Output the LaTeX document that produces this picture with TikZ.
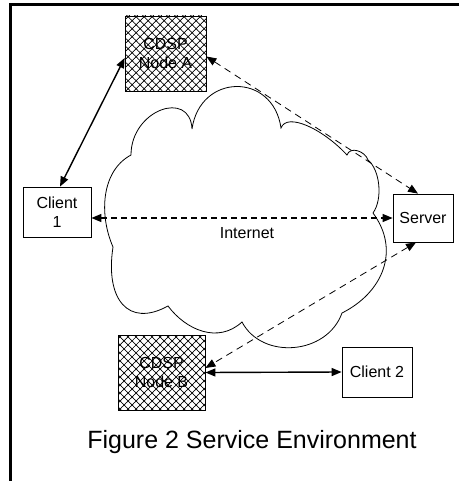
\documentclass[tikz,border=0pt]{standalone}
\usepackage{fontspec}
\setmainfont{Liberation Sans}
\usetikzlibrary{arrows.meta,patterns.meta}

\begin{document}
\begin{tikzpicture}[x=1pt, y=-1pt,
    >={Triangle[length=10pt,width=8pt]},
    box/.style={draw, line width=0.8pt, align=center, inner sep=0pt,
        font=\fontsize{16}{19}\selectfont},
    hatchbox/.style={box,
        pattern={Lines[angle=45,distance=5.66pt,line width=0.7pt]},
        postaction={pattern={Lines[angle=-45,distance=5.66pt,line width=0.7pt]}}},
    solidlink/.style={<->, line width=1.4pt},
    dashlink/.style={<->, line width=0.8pt, dash pattern=on 7pt off 5pt},
    thicklink/.style={<->, line width=1.3pt, dash pattern=on 6pt off 4pt}]
    \useasboundingbox (0,0) rectangle (459,481);

    % Frame (top and left only)
    \draw[line width=3pt] (459,4.5) -- (10.5,4.5) -- (10.5,481);

    % Internet cloud
    \draw[line width=0.8pt] (192,129)
        .. controls +(8,-56) and +(-8,-56) .. (281,128)
        .. controls +(6,-16) and +(-24,-26) .. (347,155)
        .. controls +(3,-9) and +(-3,-9) .. (368,160)
        .. controls +(12,10) and +(10,-14) .. (373,213)
        .. controls +(28,38) and +(40,-20) .. (342,313)
        .. controls +(-15,42) and +(20,38) .. (242,322)
        .. controls +(-24,22) and +(18,24) .. (168,306)
        .. controls +(-40,22) and +(-8,52) .. (113,247)
        .. controls +(-14,-32) and +(-30,16) .. (131,155)
        .. controls +(0,-45) and +(-2,-40) .. (192,129);
    \node[font=\fontsize{16}{19}\selectfont] (inet) at (247,233) {Internet};

    % Nodes
    \node[hatchbox, minimum width=81pt, minimum height=75pt] (cdspA) at (165.5,53.5) {CDSP\\Node A};
    \node[box, minimum width=68pt, minimum height=50pt] (client1) at (57,212) {Client\\1};
    \node[box, minimum width=60pt, minimum height=48pt] (server) at (423,218) {Server};
    \node[hatchbox, minimum width=87pt, minimum height=75pt] (cdspB) at (161.5,372.5) {CDSP\\Node B};
    \node[box, minimum width=70pt, minimum height=50pt] (client2) at (377,372) {Client 2};

    % Links
    \draw[solidlink] ([xshift=3pt]client1.north) -- ([yshift=-4.5pt]cdspA.west);
    \draw[dashlink] ([yshift=-3pt]cdspA.east) -- ([xshift=-5pt]server.north);
    \draw[thicklink] (client1.east |- server.west) -- (server.west);
    \draw[dashlink] ([xshift=-7pt]server.south) -- ([yshift=4.5pt]cdspB.east);
    \draw[solidlink] (cdspB.east) -- (client2.west);

    % Caption
    \node[font=\fontsize{25}{30}\selectfont] (caption) at (252,442) {Figure 2 Service Environment};
\end{tikzpicture}
\end{document}
